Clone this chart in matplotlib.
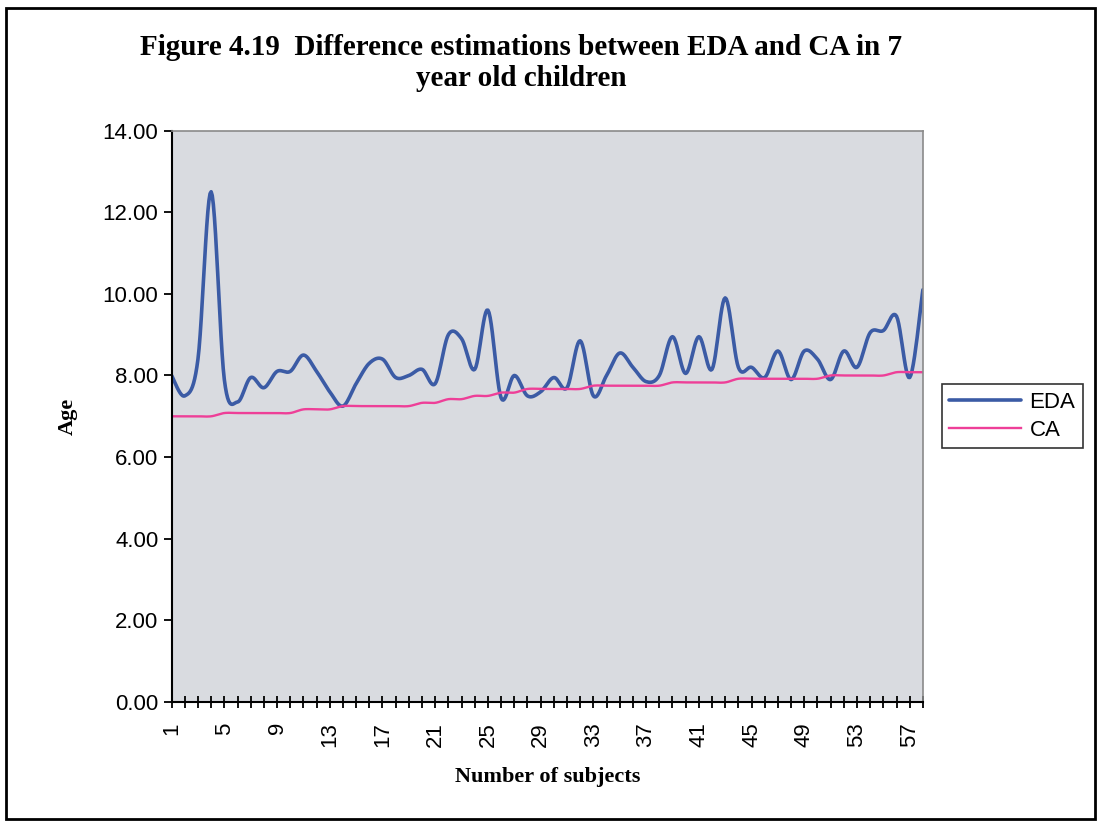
import numpy as np
import matplotlib
matplotlib.use('Agg')
import matplotlib.pyplot as plt
from matplotlib.patches import Rectangle

# %%
subjects = list(range(1, 59))

eda = [8.0, 7.5, 8.4, 12.5, 7.9, 7.35, 7.95, 7.7, 8.1, 8.1,
       8.5, 8.1, 7.6, 7.25, 7.8, 8.3, 8.4, 7.95, 8.0, 8.15,
       7.8, 9.0, 8.9, 8.15, 9.6, 7.45, 8.0, 7.5, 7.6, 7.95,
       7.7, 8.85, 7.5, 8.0, 8.55, 8.2, 7.85, 8.0, 8.95, 8.05,
       8.95, 8.15, 9.9, 8.2, 8.2, 7.95, 8.6, 7.9, 8.6, 8.4,
       7.9, 8.6, 8.2, 9.05, 9.1, 9.45, 7.95, 10.1]

ca = [7.00, 7.00, 7.00, 7.00, 7.08, 7.08, 7.08, 7.08, 7.08, 7.08,
      7.17, 7.17, 7.17, 7.25, 7.25, 7.25, 7.25, 7.25, 7.25, 7.33,
      7.33, 7.42, 7.42, 7.50, 7.50, 7.58, 7.58, 7.67, 7.67, 7.67,
      7.67, 7.67, 7.75, 7.75, 7.75, 7.75, 7.75, 7.75, 7.83, 7.83,
      7.83, 7.83, 7.83, 7.92, 7.92, 7.92, 7.92, 7.92, 7.92, 7.92,
      8.00, 8.00, 8.00, 8.00, 8.00, 8.08, 8.08, 8.08]

xtick_labels = [str(s) for s in subjects[::4]]
yticks = [0, 2, 4, 6, 8, 10, 12, 14]


# %%
def smooth(x, y, n=12):
    # excel style smoothed line (bezier through the points)
    x = np.asarray(x, float)
    y = np.asarray(y, float)
    px = np.concatenate([[x[0]], x, [x[-1]]])
    py = np.concatenate([[y[0]], y, [y[-1]]])
    xs, ys = [], []
    t = np.linspace(0, 1, n, endpoint=False)
    for i in range(len(x) - 1):
        p0 = np.array([px[i + 1], py[i + 1]])
        p3 = np.array([px[i + 2], py[i + 2]])
        c1 = p0 + (np.array([px[i + 2], py[i + 2]]) - np.array([px[i], py[i]])) / 6
        c2 = p3 - (np.array([px[i + 3], py[i + 3]]) - np.array([px[i + 1], py[i + 1]])) / 6
        b = ((1 - t) ** 3)[:, None] * p0 + (3 * (1 - t) ** 2 * t)[:, None] * c1 \
            + (3 * (1 - t) * t ** 2)[:, None] * c2 + (t ** 3)[:, None] * p3
        xs.extend(b[:, 0])
        ys.extend(b[:, 1])
    xs.append(x[-1])
    ys.append(y[-1])
    return xs, ys


# %%
plt.rcParams['font.family'] = ['Liberation Sans', 'DejaVu Sans']
serif = ['Liberation Serif', 'DejaVu Serif']

fig = plt.figure(figsize=(11, 8.26), dpi=100)
ax = fig.add_axes([0.156, 0.150, 0.683, 0.692])
ax.set_facecolor('#d9dbe0')

ex, ey = smooth(subjects, eda)
cx, cy = smooth(subjects, ca)
ax.plot(ex, ey, color='#3b5ba5', lw=2.6, label='EDA', solid_capstyle='round')
ax.plot(cx, cy, color='#ee3f98', lw=1.7, label='CA')

ax.set_xlim(subjects[0], subjects[-1])
ax.set_ylim(0, 14)
ax.set_yticks(yticks)
ax.set_yticklabels(['%.2f' % v for v in yticks], fontsize=16)
ax.set_xticks(subjects[::4])
ax.set_xticks(subjects, minor=True)
ax.set_xticklabels(xtick_labels, rotation=90, fontsize=16)
ax.tick_params(axis='x', which='both', direction='inout', length=9, width=1.3, pad=10)
ax.tick_params(axis='y', direction='out', length=6, width=1.3)

for s in ['top', 'right']:
    ax.spines[s].set_color('#8a8a8a')
    ax.spines[s].set_linewidth(1.2)
for s in ['left', 'bottom']:
    ax.spines[s].set_color('black')
    ax.spines[s].set_linewidth(1.5)

ax.set_xlabel('Number of subjects', fontsize=16, fontweight='bold',
              family=serif, labelpad=14)
ax.set_ylabel('Age', fontsize=16, fontweight='bold', family=serif, labelpad=18)

fig.text(0.474, 0.942, 'Figure 4.19  Difference estimations between EDA and CA in 7',
         ha='center', va='center', fontsize=21, fontweight='bold', family=serif)
fig.text(0.474, 0.905, 'year old children',
         ha='center', va='center', fontsize=21, fontweight='bold', family=serif)

leg = ax.legend(loc='center left', bbox_to_anchor=(1.025, 0.5), fontsize=16,
                frameon=True, fancybox=False, edgecolor='black',
                handlelength=3.2, borderpad=0.35, labelspacing=0.3,
                handletextpad=0.4, borderaxespad=0)
leg.get_frame().set_linewidth(1.2)

# chart area border
fig.patches.append(Rectangle((0.005, 0.008), 0.99, 0.982, transform=fig.transFigure,
                             fill=False, edgecolor='black', lw=2))

fig.savefig('out.png', dpi=100)
